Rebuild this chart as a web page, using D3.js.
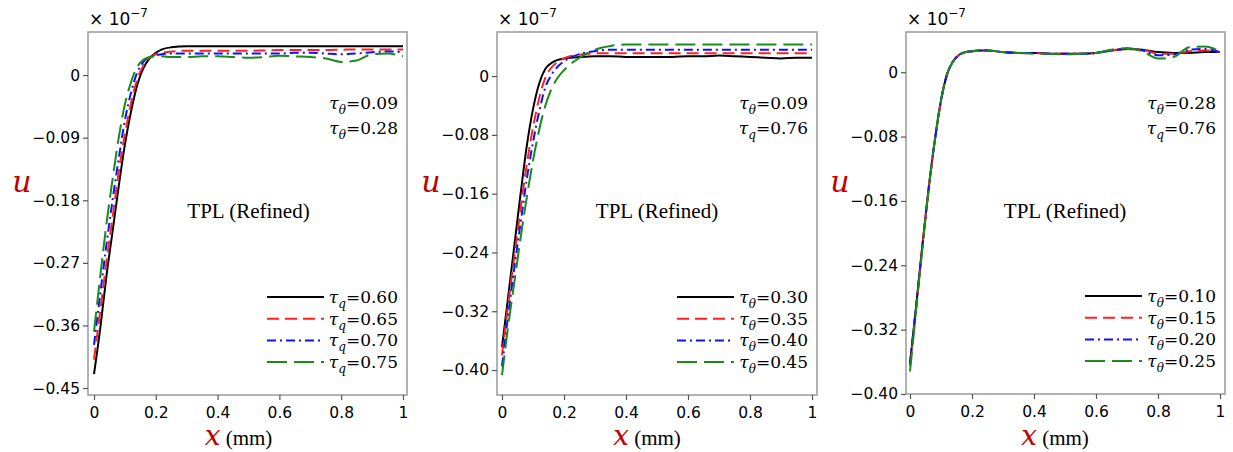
<!DOCTYPE html>
<html>
<head>
<meta charset="utf-8">
<script src="https://cdn.jsdelivr.net/npm/d3@7"></script>
<style>
  body { margin: 0; background: #fff; }
  svg { display: block; }
</style>
</head>
<body>
<div class="board"></div>
<script>
// shared x grid (mm)
const xGrid = [0, 0.02, 0.04, 0.06, 0.08, 0.10, 0.12, 0.14, 0.16, 0.18, 0.20, 0.22, 0.25,
    0.30, 0.35, 0.40, 0.45, 0.50, 0.55, 0.60, 0.65, 0.70, 0.75, 0.80, 0.85, 0.90, 0.95, 1.00]

// panel A: tau_theta = 0.09, tau_q varies
const uA_060 = [-0.430, -0.365, -0.290, -0.225, -0.160, -0.100, -0.052, -0.014, 0.010, 0.024, 0.032, 0.037, 0.040,
    0.0415, 0.0415, 0.0415, 0.0415, 0.0415, 0.0415, 0.0415, 0.0415, 0.0415, 0.0415, 0.0415, 0.0415, 0.0415, 0.0415, 0.0415]
const uA_065 = [-0.409, -0.340, -0.270, -0.205, -0.140, -0.085, -0.040, -0.006, 0.014, 0.025, 0.030, 0.032, 0.034,
    0.035, 0.035, 0.035, 0.035, 0.035, 0.0355, 0.036, 0.036, 0.036, 0.036, 0.0365, 0.037, 0.037, 0.037, 0.037]
const uA_070 = [-0.388, -0.315, -0.245, -0.180, -0.120, -0.065, -0.025, 0.004, 0.019, 0.026, 0.029, 0.030, 0.031,
    0.031, 0.031, 0.031, 0.031, 0.031, 0.031, 0.031, 0.032, 0.032, 0.031, 0.030, 0.031, 0.033, 0.034, 0.033]
const uA_075 = [-0.369, -0.290, -0.215, -0.150, -0.090, -0.042, -0.010, 0.012, 0.022, 0.026, 0.027, 0.027, 0.026,
    0.026, 0.027, 0.027, 0.026, 0.025, 0.026, 0.028, 0.027, 0.026, 0.024, 0.019, 0.021, 0.030, 0.031, 0.027]

// panel B: tau_theta varies, tau_q = 0.76
const uB_030 = [-0.369, -0.300, -0.230, -0.160, -0.095, -0.045, -0.010, 0.010, 0.018, 0.022, 0.024, 0.025, 0.026,
    0.027, 0.027, 0.026, 0.026, 0.026, 0.026, 0.027, 0.027, 0.028, 0.027, 0.026, 0.025, 0.024, 0.025, 0.025]
const uB_035 = [-0.380, -0.310, -0.245, -0.180, -0.120, -0.070, -0.030, -0.002, 0.012, 0.019, 0.024, 0.027, 0.029,
    0.031, 0.031, 0.031, 0.031, 0.031, 0.031, 0.031, 0.031, 0.031, 0.031, 0.031, 0.031, 0.031, 0.031, 0.031]
const uB_040 = [-0.395, -0.325, -0.260, -0.200, -0.140, -0.090, -0.048, -0.015, 0.002, 0.013, 0.020, 0.025, 0.030,
    0.034, 0.036, 0.036, 0.036, 0.036, 0.036, 0.036, 0.036, 0.036, 0.036, 0.036, 0.036, 0.036, 0.036, 0.036]
const uB_045 = [-0.407, -0.340, -0.280, -0.220, -0.165, -0.115, -0.073, -0.040, -0.017, -0.002, 0.008, 0.016, 0.025,
    0.036, 0.041, 0.043, 0.043, 0.043, 0.043, 0.043, 0.043, 0.043, 0.043, 0.043, 0.043, 0.043, 0.043, 0.043]

// panel C: tau_theta = 0.28, tau_q = 0.76 (legend tau_theta)
const uC_010 = [-0.362, -0.290, -0.215, -0.145, -0.085, -0.035, -0.002, 0.014, 0.022, 0.025, 0.026, 0.027, 0.027,
    0.025, 0.024, 0.024, 0.023, 0.023, 0.023, 0.024, 0.027, 0.029, 0.028, 0.025, 0.024, 0.024, 0.025, 0.025]
const uC_015 = [-0.365, -0.291, -0.216, -0.145, -0.085, -0.035, -0.002, 0.014, 0.022, 0.025, 0.026, 0.027, 0.027,
    0.025, 0.024, 0.024, 0.023, 0.023, 0.023, 0.024, 0.027, 0.029, 0.028, 0.023, 0.023, 0.026, 0.027, 0.025]
const uC_020 = [-0.363, -0.290, -0.216, -0.145, -0.085, -0.035, -0.002, 0.014, 0.022, 0.025, 0.026, 0.027, 0.027,
    0.025, 0.024, 0.024, 0.023, 0.023, 0.023, 0.024, 0.027, 0.029, 0.027, 0.021, 0.022, 0.028, 0.029, 0.025]
const uC_025 = [-0.372, -0.295, -0.218, -0.146, -0.085, -0.035, -0.002, 0.014, 0.022, 0.025, 0.026, 0.027, 0.027,
    0.025, 0.024, 0.023, 0.023, 0.022, 0.023, 0.024, 0.028, 0.030, 0.026, 0.017, 0.019, 0.031, 0.032, 0.026]

const legendA = ["0.60", "0.65", "0.70", "0.75"]
const legendB = ["0.30", "0.35", "0.40", "0.45"]
const legendC = ["0.10", "0.15", "0.20", "0.25"]

const yTicksA = [0, -0.09, -0.18, -0.27, -0.36, -0.45]
const yTicksB = [0, -0.08, -0.16, -0.24, -0.32, -0.40]
const yTicksC = [0, -0.08, -0.16, -0.24, -0.32, -0.40]
const xTicks = [0, 0.2, 0.4, 0.6, 0.8, 1]

const colors = ["#000000", "#ff2020", "#1010ff", "#1a8a1a"]
const dashes = [null, "12,6", "9,4,2,4", "20,7"]

var svg = d3.select(".board")
    .append("svg")
    .attr("width", 1233)
    .attr("height", 452)

const panels = [
    { left: 88, right: 407, bottom: 395, x0: 94, x1: 403, yDom: [-0.46, 0.062], ticks: yTicksA, minor: 0.0225,
      series: [uA_060, uA_065, uA_070, uA_075], legend: legendA, sub: "q", note: [["θ", "0.09"], ["θ", "0.28"]] },
    { left: 497, right: 817, bottom: 395, x0: 502, x1: 812, yDom: [-0.434, 0.06], ticks: yTicksB, minor: 0.02,
      series: [uB_030, uB_035, uB_040, uB_045], legend: legendB, sub: "θ", note: [["θ", "0.09"], ["q", "0.76"]] },
    { left: 906, right: 1225, bottom: 394, x0: 910, x1: 1220, yDom: [-0.40, 0.05], ticks: yTicksC, minor: 0.02,
      series: [uC_010, uC_015, uC_020, uC_025], legend: legendC, sub: "θ", note: [["θ", "0.28"], ["q", "0.76"]] }
]
const TOP = 32

function tauText(g, x, y, sub, value) {
    let t = g.append("text")
        .attr("x", x).attr("y", y)
        .attr("text-anchor", "end")
        .attr("font-family", "DejaVu Serif")
        .attr("font-size", 17)
    t.append("tspan").attr("font-style", "italic").text("τ")
    t.append("tspan").attr("font-style", "italic").attr("font-size", 12).attr("dy", 5).text(sub)
    t.append("tspan").attr("dy", -5).text("=" + value)
}

function drawPanel(p) {
    let g = svg.append("g")

    let x = d3.scaleLinear().domain([0, 1]).range([p.x0, p.x1])
    let y = d3.scaleLinear().domain(p.yDom).range([p.bottom, TOP])

    // frame
    g.append("rect")
        .attr("x", p.left).attr("y", TOP)
        .attr("width", p.right - p.left).attr("height", p.bottom - TOP)
        .attr("fill", "none").attr("stroke", "#a0a0a0").attr("stroke-width", 1.6)

    // minor ticks
    let minorY = d3.range(p.ticks[p.ticks.length - 1], p.yDom[1], p.minor)
        .filter(v => v > p.yDom[0] && v < p.yDom[1] - 0.004)
    let minorX = d3.range(0, 1.0001, 0.05)

    let ax = g.append("g").attr("transform", `translate(${p.left},0)`)
    ax.call(d3.axisLeft(y).tickValues(minorY).tickSize(3).tickFormat(""))
    ax.call(d3.axisLeft(y).tickValues(p.ticks).tickSize(5).tickPadding(3)
        .tickFormat(d => d === 0 ? "0" : d3.format(".2f")(d)))
    ax.select(".domain").remove()

    let bx = g.append("g").attr("transform", `translate(0,${p.bottom})`)
    bx.call(d3.axisBottom(x).tickValues(minorX).tickSize(3).tickFormat(""))
    bx.call(d3.axisBottom(x).tickValues(xTicks).tickSize(5).tickPadding(7)
        .tickFormat(d => d3.format("")(d)))
    bx.select(".domain").remove()

    g.selectAll(".tick line").attr("stroke", "#555").attr("stroke-width", 1.2)
    g.selectAll(".tick text").attr("font-family", "DejaVu Sans").attr("font-size", 15.5).attr("fill", "#000")

    // exponent
    let e = g.append("text").attr("x", p.left + 1).attr("y", 25)
        .attr("font-family", "DejaVu Sans").attr("font-size", 17)
    e.append("tspan").text("× 10")
    e.append("tspan").attr("font-size", 12).attr("dy", -8).text("−7")

    // curves
    let line = d3.line()
        .curve(d3.curveMonotoneX)
        .x(d => x(d[0]))
        .y(d => y(d[1]))

    p.series.forEach((s, i) => {
        g.append("path")
            .datum(xGrid.map((xv, j) => [xv, s[j]]))
            .attr("fill", "none")
            .attr("stroke", colors[i])
            .attr("stroke-width", 2)
            .attr("stroke-dasharray", dashes[i])
            .attr("d", line)
    })

    // annotation
    tauText(g, p.right - 9, 109, p.note[0][0], p.note[0][1])
    tauText(g, p.right - 9, 134, p.note[1][0], p.note[1][1])

    g.append("text")
        .attr("x", (p.x0 + p.x1) / 2)
        .attr("y", 218)
        .attr("text-anchor", "middle")
        .attr("font-family", "Liberation Serif")
        .attr("font-size", 21)
        .text("TPL (Refined)")

    // legend
    p.legend.forEach((v, i) => {
        let ly = p.bottom - 98 + i * 21.7
        g.append("line")
            .attr("x1", p.right - 140).attr("x2", p.right - 83)
            .attr("y1", ly).attr("y2", ly)
            .attr("stroke", colors[i])
            .attr("stroke-width", 2)
            .attr("stroke-dasharray", dashes[i])
        tauText(g, p.right - 9, ly + 6, p.sub, v)
    })

    // axis labels
    g.append("text")
        .attr("x", p.left - 66).attr("y", 192)
        .attr("text-anchor", "middle")
        .attr("font-family", "DejaVu Serif")
        .attr("font-style", "italic")
        .attr("font-size", 30)
        .attr("fill", "#c00000")
        .text("u")

    let xl = g.append("text")
        .attr("x", (p.x0 + p.x1) / 2 - 10).attr("y", 445)
        .attr("text-anchor", "middle")
        .attr("font-family", "Liberation Serif")
    xl.append("tspan").attr("font-family", "DejaVu Serif").attr("font-style", "italic")
        .attr("font-size", 28).attr("fill", "#c00000").text("x")
    xl.append("tspan").attr("font-size", 21).attr("fill", "#000").text(" (mm)")
}

panels.forEach(drawPanel)
</script>
</body>
</html>
